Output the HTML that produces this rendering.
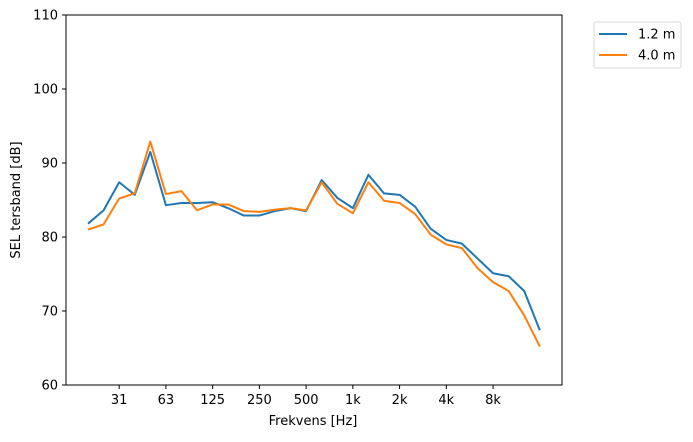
<!DOCTYPE html>
<html><head><meta charset="utf-8"><style>
body{margin:0;background:#fff;font-family:"DejaVu Sans","Liberation Sans",sans-serif}
text{font-family:"DejaVu Sans","Liberation Sans",sans-serif;font-size:13px;fill:#000}
</style></head><body>
<svg id="chart" width="693" height="438">
<rect x="66" y="15" width="496" height="370" fill="none" stroke="#000" stroke-width="1"/>
<g id="yaxis"></g>
<g id="xaxis"></g>
<g id="series"></g>
<text x="313" y="425" text-anchor="middle">Frekvens [Hz]</text>
<text transform="translate(20,200) rotate(-90)" text-anchor="middle">SEL tersband [dB]</text>
<g>
<rect x="594" y="22" width="87" height="46" rx="2" fill="#fff" stroke="#ccc" stroke-width="0.8"/>
<g><line x1="599" y1="34" x2="627" y2="34" stroke="#1f77b4" stroke-width="2"/><text x="638" y="38.5">1.2 m</text></g>
<g><line x1="599" y1="55" x2="627" y2="55" stroke="#ff7f0e" stroke-width="2"/><text x="638" y="59.5">4.0 m</text></g>
</g>
</svg>
<script>
const bands=[20,25,31.5,40,50,63,80,100,125,160,200,250,315,400,500,630,800,1000,1250,1600,2000,2500,3150,4000,5000,6300,8000,10000,12500,16000];
const sel12=[81.8,83.6,87.4,85.7,91.5,84.3,84.6,84.6,84.7,83.9,82.9,82.9,83.5,83.9,83.5,87.7,85.3,83.9,88.4,85.9,85.7,84.1,81.1,79.6,79.1,77.1,75.1,74.7,72.7,67.4];
const sel40=[81.0,81.7,85.2,85.9,92.9,85.8,86.2,83.6,84.4,84.4,83.5,83.4,83.7,83.9,83.6,87.4,84.5,83.2,87.4,84.9,84.6,83.1,80.3,79.0,78.5,75.8,73.9,72.7,69.4,65.2];
const xTickIdx=[2,5,8,11,14,17,20,23,26];
const xTickLabels=["31","63","125","250","500","1k","2k","4k","8k"];
const yTicks=[60,70,80,90,100,110];
const NS="http://www.w3.org/2000/svg";
function xs(i){return 88+i*(539.8-88)/29;}
function ys(v){return 385-(v-60)*7.4;}
function mk(t,a,p){const e=document.createElementNS(NS,t);for(const k in a)e.setAttribute(k,a[k]);p.appendChild(e);return e;}
const ya=document.getElementById('yaxis');
yTicks.forEach(v=>{
 const l=mk('line',{x1:62,x2:66,y1:ys(v),y2:ys(v),stroke:'#000','stroke-width':1},ya);
 
 
 const t=mk('text',{x:58,y:ys(v)+4.5,'text-anchor':'end'},ya);t.textContent=v;
 
 
});
const xa=document.getElementById('xaxis');
xTickIdx.forEach((i,k)=>{
 const l=mk('line',{x1:xs(i),x2:xs(i),y1:385,y2:389,stroke:'#000','stroke-width':1},xa);
 
 
 const t=mk('text',{x:xs(i),y:404,'text-anchor':'middle'},xa);t.textContent=xTickLabels[k];
 
 
});
const sg=document.getElementById('series');
[[sel12,'#1f77b4','line-1-2m'],[sel40,'#ff7f0e','line-4-0m']].forEach(([d,c,n])=>{
 const p=mk('polyline',{points:d.map((v,i)=>xs(i)+','+ys(v)).join(' '),fill:'none',stroke:c,'stroke-width':2,'stroke-linejoin':'round'},sg);
 
 
});
</script>
</body></html>
